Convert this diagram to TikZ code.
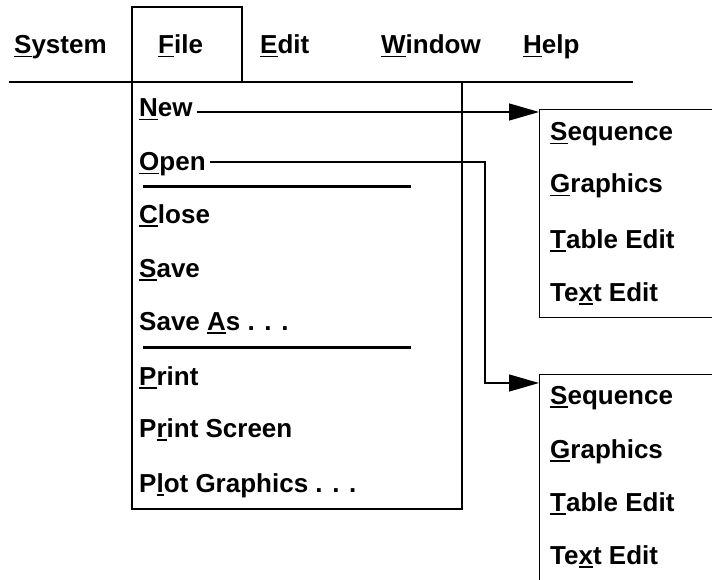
\documentclass[tikz,border=0pt]{standalone}
\usepackage{fontspec}
\setmainfont{Liberation Sans}
\usetikzlibrary{arrows.meta}

% underlined mnemonic letter
\newcommand\ulk[1]{\setbox0=\hbox{#1}\rlap{\rule[-3.5pt]{\wd0}{1.5pt}}\box0}

\begin{document}
\begin{tikzpicture}[x=1pt,y=-1pt,
  lbl/.style={anchor=base west,inner sep=0pt,font=\fontsize{26}{30}\selectfont\bfseries},
  frame/.style={draw=black,line width=1.3pt},
  sepline/.style={line width=3pt},
  wire/.style={line width=1.3pt},
  arr/.style={wire,-{Triangle[length=30pt,width=17pt]}}]
\useasboundingbox (0,0) rectangle (712,580);
\clip (0,0) rectangle (712,580);

% menu bar
\draw[frame] (132,82) -- (132,7) -- (242,7) -- (242,82);
\draw[wire] (9,82) -- (633,82);
\node[lbl] (msys) at (14,54) {\ulk{S}ystem};
\node[lbl] (mfile) at (158,54) {\ulk{F}ile};
\node[lbl] (medit) at (260,54) {\ulk{E}dit};
\node[lbl] (mwin) at (381,54) {\ulk{W}indow};
\node[lbl] (mhelp) at (523,54) {\ulk{H}elp};

% File drop-down
\draw[frame] (132,82) rectangle (462,509);
\node[lbl] (inew) at (139,117) {\ulk{N}ew};
\node[lbl] (iopen) at (139,171) {\ulk{O}pen};
\draw[sepline] (143,187) -- (411,187);
\node[lbl] (iclose) at (139,223) {\ulk{C}lose};
\node[lbl] (isave) at (139,277) {\ulk{S}ave};
\node[lbl] (isaveas) at (139,330) {Save \ulk{A}s . . .};
\draw[sepline] (143,347) -- (411,347);
\node[lbl] (iprint) at (139,385) {\ulk{P}rint};
\node[lbl] (iprscr) at (139,437) {P\ulk{r}int Screen};
\node[lbl] (iplot) at (139,492) {P\ulk{l}ot Graphics . . .};

% cascading submenus
\node[frame,anchor=north west,minimum width=220pt,minimum height=208pt,inner sep=0pt] (subA) at (539,109) {};
\node[lbl] (aseq) at (550,141) {\ulk{S}equence};
\node[lbl] (agra) at (550,193) {\ulk{G}raphics};
\node[lbl] (atab) at (550,248) {\ulk{T}able Edit};
\node[lbl] (atxt) at (550,301) {Te\ulk{x}t Edit};

\node[frame,anchor=north west,minimum width=220pt,minimum height=240pt,inner sep=0pt] (subB) at (539,374) {};
\node[lbl] (bseq) at (550,404) {\ulk{S}equence};
\node[lbl] (bgra) at (550,458) {\ulk{G}raphics};
\node[lbl] (btab) at (550,511) {\ulk{T}able Edit};
\node[lbl] (btxt) at (550,564) {Te\ulk{x}t Edit};

% connectors
\coordinate (newend) at ([shift={(4pt,5pt)}]inew.base east);
\coordinate (openend) at ([shift={(4pt,9pt)}]iopen.base east);
\coordinate (bend) at (485,383);
\draw[arr] (newend) -- (newend -| subA.west);
\draw[arr] (openend) -| (bend) -- (bend -| subB.west);
\end{tikzpicture}
\end{document}
